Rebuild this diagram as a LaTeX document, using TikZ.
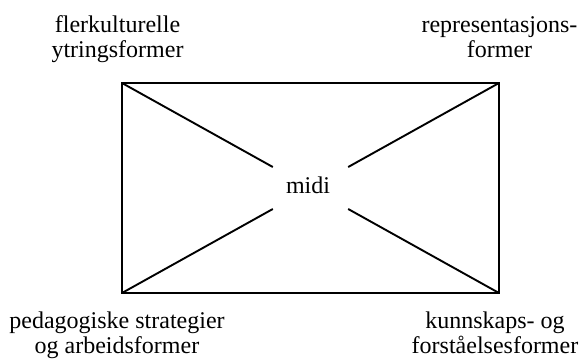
\documentclass[tikz,border=0pt]{standalone}
\usepackage{fontspec}
\setmainfont{Liberation Serif}
\usetikzlibrary{calc}
\tikzset{
  frame/.style={line width=1.9pt, line join=miter},
  spoke/.style={line width=1.9pt},
  lbl/.style={align=center, inner sep=0pt, font=\fontsize{24}{25}\selectfont},
}
\begin{document}
\begin{tikzpicture}[x=1pt, y=-1pt]
  \useasboundingbox (0,0) rectangle (580,359);
  % corners of the frame
  \coordinate (tl) at (122,83);
  \coordinate (tr) at (499,83);
  \coordinate (bl) at (122,293);
  \coordinate (br) at (499,293);
  \coordinate (ctr) at ($(tl)!0.5!(br)$);
  \draw[frame] (tl) rectangle (br);
  % centre label
  \node[lbl] (midi) at (308,185) {midi};
  % diagonals, broken around the centre label
  \foreach \c in {tl,tr,bl,br}
    \draw[spoke] (\c) -- ($(ctr)!0.2!(\c)$);
  % corner labels
  \node[lbl] (ul) at (117.5,39.5) {flerkulturelle\\ytringsformer};
  \node[lbl] (ur) at (499.5,37) {representasjons-\\former};
  \node[lbl] (ll) at (117,335) {pedagogiske strategier\\og arbeidsformer};
  \node[lbl] (lr) at (495,332.5) {kunnskaps- og\\forståelsesformer};
\end{tikzpicture}
\end{document}
